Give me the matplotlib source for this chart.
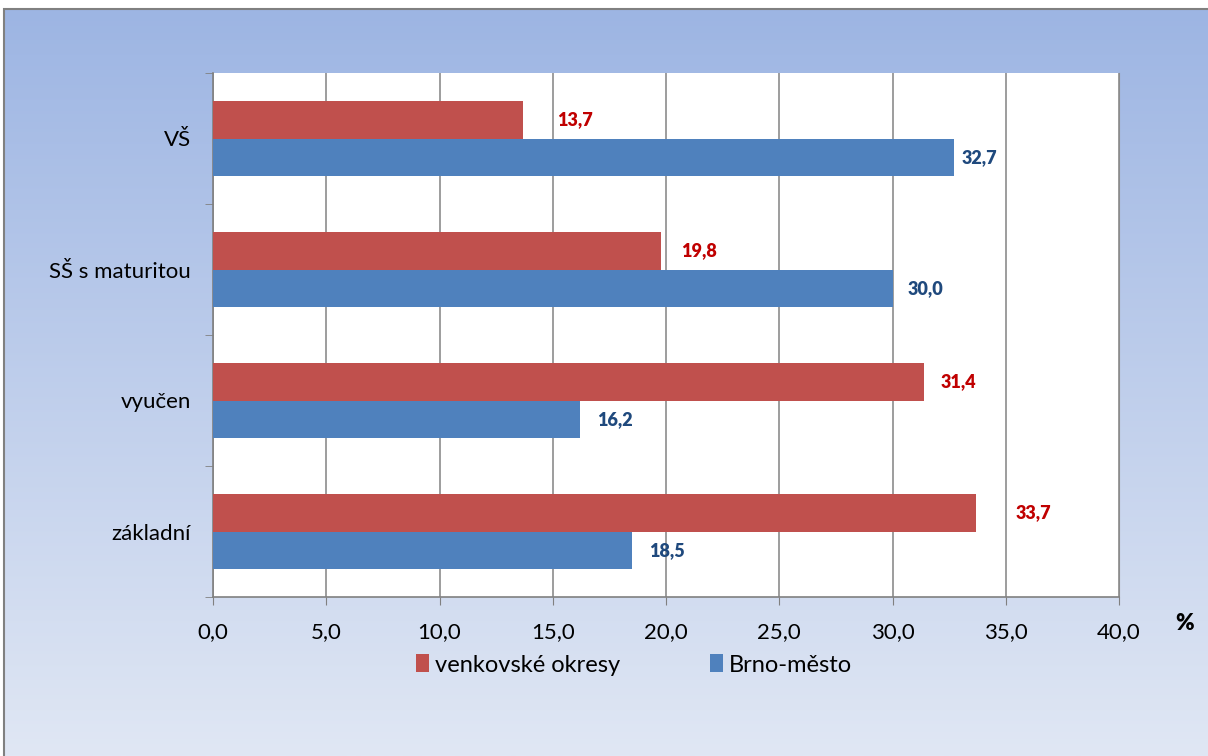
import matplotlib.pyplot as plt
import numpy as np
from matplotlib.patches import Rectangle

categories = ['základní', 'vyučen', 'SŠ s maturitou', 'VŠ']
venkov = [33.7, 31.4, 19.8, 13.7]
brno = [18.5, 16.2, 30.0, 32.7]
series_names = ['venkovské okresy', 'Brno-město']
x_ticks = [0, 5, 10, 15, 20, 25, 30, 35, 40]

# label offsets in points (labels were hand placed in the original)
venkov_off = [28, 12, 14, 24]
brno_off = [12, 12, 11, 6]

plt.rcParams['font.family'] = ['Lato', 'DejaVu Sans']

fig = plt.figure(figsize=(12.08, 7.56), dpi=100)

# gradient background inside the frame
bg = fig.add_axes([0, 0, 1, 1], zorder=0)
bg.set_axis_off()
top = np.array([157, 181, 227]) / 255
bottom = np.array([224, 231, 244]) / 255
t = np.linspace(0, 1, 256)[:, None]
grad = (top * (1 - t) + bottom * t)[:, None, :]
bg.imshow(grad, aspect='auto', extent=[4 / 1208, 1, 0, 1 - 9 / 756])
bg.set_xlim(0, 1)
bg.set_ylim(0, 1)
bg.add_patch(Rectangle((4 / 1208, -0.01), 1.0, 1 - 9 / 756 + 0.01,
                       fill=False, edgecolor='#808080', linewidth=1.5))

ax = fig.add_axes([213 / 1208, 1 - 597 / 756, 906 / 1208, 524 / 756], zorder=1)
ax.set_facecolor('white')

y = np.arange(len(categories))
h = 0.29
red_bars = ax.barh(y + h / 2, venkov, height=h, color='#C0504D', label=series_names[0], zorder=3)
blue_bars = ax.barh(y - h / 2, brno, height=h, color='#4F81BD', label=series_names[1], zorder=3)

for bar, v, off in zip(red_bars, venkov, venkov_off):
    ax.annotate(f'{v:.1f}'.replace('.', ','), xy=(v, bar.get_y() + h / 2), xytext=(off, 0),
                textcoords='offset points', va='center', ha='left',
                fontsize=13, fontweight='heavy', color='#C00000')
for bar, v, off in zip(blue_bars, brno, brno_off):
    ax.annotate(f'{v:.1f}'.replace('.', ','), xy=(v, bar.get_y() + h / 2), xytext=(off, 0),
                textcoords='offset points', va='center', ha='left',
                fontsize=13, fontweight='heavy', color='#1F497D')

ax.set_xlim(0, 40)
ax.set_ylim(-0.5, len(categories) - 0.5)
ax.set_xticks(x_ticks)
ax.set_xticklabels([f'{v:.1f}'.replace('.', ',') for v in x_ticks], fontsize=16)
ax.set_yticks(y)
ax.set_yticklabels(categories, fontsize=16)
ax.set_yticks(np.arange(-0.5, len(categories), 1), minor=True)
ax.tick_params(axis='y', which='major', length=0, pad=16)
ax.tick_params(axis='y', which='minor', length=6, color='#808080', direction='out')
ax.tick_params(axis='x', length=6, color='#808080', direction='out', pad=12)

ax.grid(axis='x', color='#8C8C8C', linewidth=1.2, zorder=0)
ax.set_axisbelow(True)
ax.spines['top'].set_visible(False)
ax.spines['right'].set_color('#8C8C8C')
ax.spines['left'].set_color('#808080')
ax.spines['bottom'].set_color('#808080')
ax.spines['left'].set_linewidth(1.2)
ax.spines['bottom'].set_linewidth(1.2)

fig.text(1185 / 1208, 1 - 624 / 756, '%', fontsize=16, fontweight='heavy', ha='center', va='center')

fig.legend(handles=[red_bars, blue_bars], labels=series_names, loc='center',
           bbox_to_anchor=(634 / 1208, 1 - 665 / 756), ncol=2, frameon=False, fontsize=17,
           handlelength=0.55, handleheight=0.8, handletextpad=0.25, columnspacing=3.8)

fig.savefig('out.png', dpi=100)
